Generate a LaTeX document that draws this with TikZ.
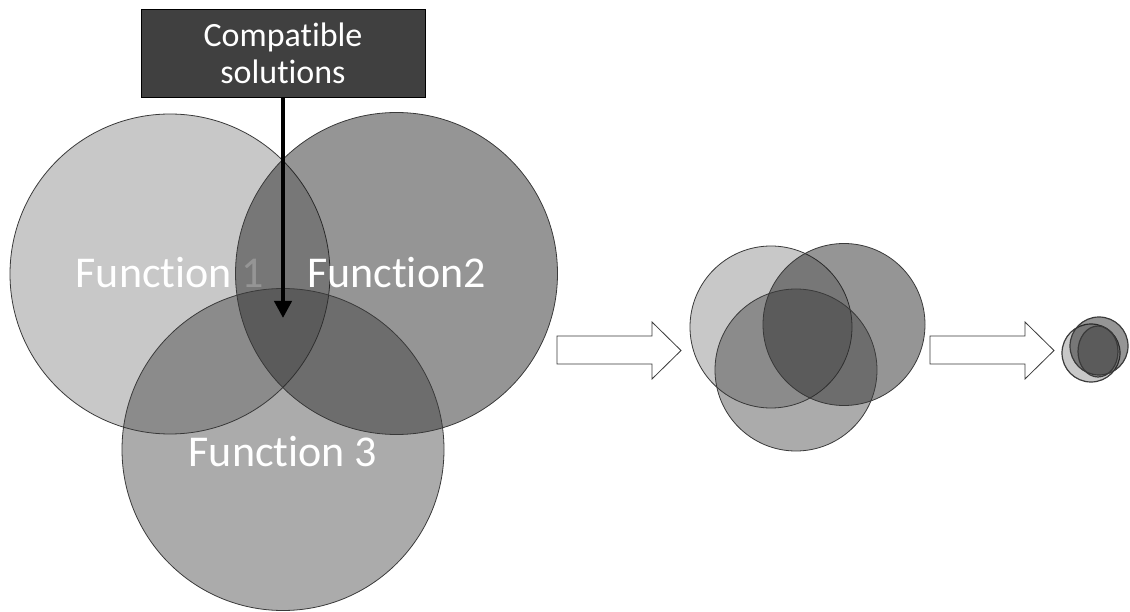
\documentclass[tikz,border=0pt]{standalone}
\usepackage{fontspec}
\setmainfont{Carlito}[Ligatures=NoCommon]
\usetikzlibrary{arrows.meta}
\definecolor{setA}{gray}{0.784}
\definecolor{setB}{gray}{0.09}
\definecolor{setC}{gray}{0.21}
\definecolor{boxgray}{HTML}{404040}
\definecolor{rim}{HTML}{3A3A3A}
\begin{document}
\begin{tikzpicture}[x=1pt,y=-1pt,
  setbase/.style={circle, draw=rim, line width=0.8pt, inner sep=0pt, outer sep=0pt},
  setone/.style={setbase, fill=setA},
  settwo/.style={setbase, fill=setB, fill opacity=0.454},
  setthree/.style={setbase, fill=setC, fill opacity=0.417},
  fnlabel/.style={text=white, font=\fontsize{44}{53}\selectfont, anchor=base, inner sep=0pt},
  boxtext/.style={text=white, font=\fontsize{34}{41}\selectfont, anchor=base, inner sep=0pt},
  blockarrow/.style={draw=rim, fill=white, line width=0.8pt, line join=miter},
  pointer/.style={line width=4pt, -{Triangle[length=17pt,width=17pt]}},
]
\useasboundingbox (0,0) rectangle (1130,612);

% three large overlapping sets, each label drawn right after its own set
\node[setone, minimum size=320pt] (f1) at (170,274) {};
\node[fnlabel] (l1) at (170,288) {Function 1};
\node[settwo, minimum size=322pt] (f2) at (396.5,273.5) {};
\node[fnlabel] (l2) at (396.5,288) {Function2};
\node[setthree, minimum size=322pt] (f3) at (283,449.5) {};
\node[fnlabel] (l3) at (283,466) {Function 3};

% callout box pointing into the common region
\node[draw=black, fill=boxgray, line width=0.8pt, minimum width=284pt,
      minimum height=88pt, inner sep=0pt] (box) at (283,53) {};
\node[boxtext] (t1) at (283,46.7) {Compatible};
\node[boxtext] (t2) at (283,83.3) {solutions};
\coordinate (core) at (283,318);
\draw[pointer] (box.south) -- (core);

% block arrows between the stages
\foreach \dx in {0,373}{
  \draw[blockarrow, xshift=\dx pt]
    (557,336) -- (652,336) -- (652,322) -- (681,350.5) -- (652,379)
    -- (652,364) -- (557,364) -- cycle;
}

% second stage: the sets drawn closer together
\node[setone, minimum size=162pt] (m1) at (771,327) {};
\node[settwo, minimum size=162pt] (m2) at (844,324.5) {};
\node[setthree, minimum size=162pt] (m3) at (796,370) {};

% final stage: the sets almost coincide
\node[setone, line width=1.2pt, minimum size=58pt] (s1) at (1091,353) {};
\node[settwo, line width=1.2pt, minimum size=58pt] (s2) at (1099,346) {};
\draw[draw=rim, line width=1.2pt, fill=setC, fill opacity=0.417]
  (1098,351.5) ellipse [x radius=20pt, y radius=25.5pt];
\end{tikzpicture}
\end{document}
